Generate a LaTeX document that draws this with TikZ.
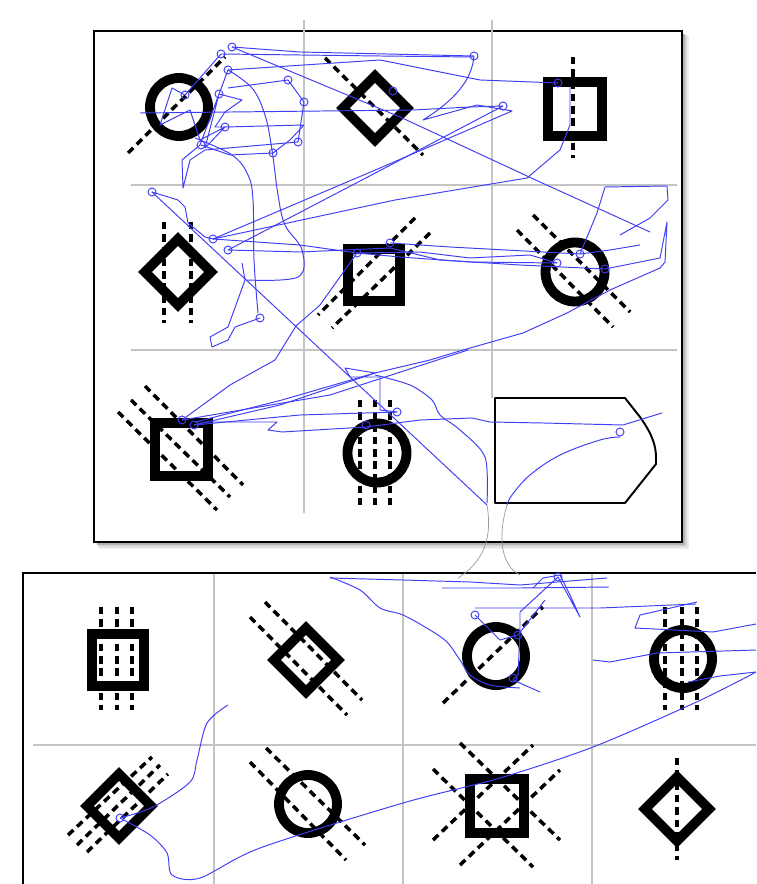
\documentclass[tikz,border=0pt]{standalone}
\usepackage{tikz}
\usetikzlibrary{calc}
\definecolor{GazeBlue}{RGB}{62,62,245}
\definecolor{GridGrey}{RGB}{196,196,196}

\begin{document}
\begin{tikzpicture}[
    x=0.02cm, y=-0.02cm,
    frame/.style={draw=black, line width=1.3pt},
    grid/.style={draw=GridGrey, line width=0.8pt},
    figure/.style={draw=black, line width=5.6pt, line join=miter},
    dashline/.style={draw=black, line width=2pt, dash pattern=on 4.2pt off 2.8pt},
    answer/.style={draw=black, line width=1.1pt, line join=round},
    gaze/.style={draw=GazeBlue, line width=0.55pt, line join=round},
    fixation/.style={draw=GazeBlue, line width=0.55pt},
    jump/.style={draw=black!40, line width=0.4pt}
]
\useasboundingbox (0,0) rectangle (756,884);

% Top panel: shadow, frame and grid
\fill[black!8] (99,36) rectangle (689,549);
\fill[black!16] (98,35) rectangle (687,547);
\fill[black!30] (97,34) rectangle (685,545);
\draw[frame, fill=white] (94,31) rectangle (682,542);
\draw[grid] (304,20) -- (304,513);
\draw[grid] (492,20) -- (492,398);
\draw[grid] (131,185) -- (677,185);
\draw[grid] (131,350) -- (677,350);

% Lower panel: frame and grid
\draw[frame, line width=1.6pt] (23,884) -- (23,573) -- (756,573);
\draw[grid] (214,574) -- (214,884);
\draw[grid] (403,574) -- (403,884);
\draw[grid] (592,574) -- (592,884);
\draw[grid] (33,745) -- (756,745);

% Row 1 of the matrix
\draw[figure] (179,107) circle (29);
\draw[dashline] (128,153) -- (225,57);
\draw[figure] (343,108) -- (375,76) -- (407,108) -- (375,140) -- cycle;
\draw[dashline] (325,58) -- (423,155);
\draw[figure] (548,82) rectangle (602,136);
\draw[dashline] (573,57) -- (573,158);

% Row 2
\draw[figure] (145,272) -- (178,239) -- (211,272) -- (178,305) -- cycle;
\draw[dashline] (164,222) -- (164,323);
\draw[dashline] (191,222) -- (191,323);
\draw[figure] (348,249) rectangle (400,301);
\draw[dashline] (415,218) -- (318,315);
\draw[dashline] (430,233) -- (332,328);
\draw[figure] (575,272) circle (29.5);
\draw[dashline] (517,230) -- (613,327);
\draw[dashline] (533,215) -- (630,312);

% Row 3
\draw[figure] (155,423) rectangle (208,476);
\draw[dashline] (118,412) -- (217,510);
\draw[dashline] (131,400) -- (230,497);
\draw[dashline] (145,386) -- (243,485);
\draw[figure] (377,453) circle (29.5);
\draw[dashline] (360,400) -- (360,505);
\draw[dashline] (375,400) -- (375,505);
\draw[dashline] (390,400) -- (390,505);
\draw[answer] (495,398) -- (625,398) -- (640,417)
    .. controls (652,434) and (656,445) .. (656,458) -- (656,464) -- (625,503) -- (495,503) -- cycle;

% Answer options, row 1
\draw[figure] (92,634) rectangle (144,686);
\draw[dashline] (101,607) -- (101,710);
\draw[dashline] (117,607) -- (117,710);
\draw[dashline] (132,607) -- (132,710);
\draw[figure] (274,660) -- (306,628) -- (338,660) -- (306,692) -- cycle;
\draw[dashline] (250,617) -- (347,715);
\draw[dashline] (265,602) -- (362,700);
\draw[figure] (496,656) circle (29);
\draw[dashline] (443,703) -- (543,607);
\draw[figure] (683,659) circle (29);
\draw[dashline] (665,607) -- (665,710);
\draw[dashline] (682,607) -- (682,710);
\draw[dashline] (697,607) -- (697,710);

% Answer options, row 2
\draw[figure] (87,806) -- (119,774) -- (151,806) -- (119,838) -- cycle;
\draw[dashline] (68,835) -- (152,757);
\draw[dashline] (77,845) -- (160,765);
\draw[dashline] (87,852) -- (168,774);
\draw[figure] (308,804) circle (29);
\draw[dashline] (266,748) -- (365,845);
\draw[dashline] (250,762) -- (346,860);
\draw[figure] (470,779) rectangle (524,833);
\draw[dashline] (460,743) -- (560,840);
\draw[dashline] (433,769) -- (533,867);
\draw[dashline] (433,840) -- (533,745);
\draw[dashline] (460,865) -- (560,770);
\draw[figure] (645,809) -- (677,777) -- (709,809) -- (677,841) -- cycle;
\draw[dashline] (677,758) -- (677,860);

% Gaze path, top panel
\draw[gaze] (232,47) -- (300,52) -- (474,56);
\draw[gaze] (221,54) -- (380,56) -- (474,57);
\draw[gaze] (228,70) -- (380,60) -- (480,80) -- (558,83);
\draw[gaze] (474,56) .. controls (472,80) and (455,100) .. (423,120) -- (477,105) -- (512,111) -- (380,168) -- (213,239);
\draw[gaze] (140,113) -- (413,110) -- (470,107) -- (503,106);
\draw[gaze] (232,47) -- (400,117) -- (540,182) -- (650,232);
\draw[gaze] (221,54) -- (185,95) -- (172,88) -- (160,125) -- (190,110) -- (200,140) -- (225,127) -- (205,148) -- (219,94) -- (228,70) -- (200,145);
\draw[gaze] (200,145) -- (182,160) -- (183,188) -- (190,160) -- (205,150) -- (298,142) -- (304,102) -- (288,80) -- (228,88);
\draw[gaze] (219,94) -- (242,100) -- (225,112) -- (215,127) -- (225,127);
\draw[gaze] (201,145) -- (230,155) -- (273,153) -- (290,140) -- (304,125) -- (225,127);
\draw[gaze] plot[smooth, tension=0.6] coordinates {(228,70) (252,88) (265,115) (272,150) (278,195) (285,225) (302,250) (298,277) (247,280)};
\draw[gaze] plot[smooth, tension=0.6] coordinates {(195,138) (232,155) (248,175) (253,200) (254,260) (258,313)};
\draw[gaze] (260,318) -- (235,327) -- (228,340) -- (212,347) -- (210,337) -- (228,327) -- (245,280) -- (242,263);
\draw[gaze] (152,192) -- (178,200) -- (185,207) -- (188,223) -- (205,237) -- (213,239);
\draw[gaze] (213,239) -- (300,245) -- (357,253) -- (400,257) -- (470,262) -- (557,263);
\draw[gaze] (228,250) -- (300,252) -- (390,248) -- (440,260) -- (520,265) -- (605,269);
\draw[gaze] (390,243) -- (450,247) -- (580,254) -- (610,250) -- (640,245);
\draw[gaze] (357,253) -- (420,252) -- (470,258) -- (530,255) -- (557,263);
\draw[gaze] (228,250) -- (362,180) -- (503,106);
\draw[gaze] (213,239) -- (395,200) -- (527,178) -- (560,150) -- (570,125) -- (570,87);
\draw[gaze] (580,254) -- (597,213) -- (605,187) -- (667,186) -- (668,200) -- (650,218) -- (620,235);
\draw[gaze] (605,269) -- (660,258) -- (667,222) -- (665,262) -- (660,268) -- (610,290)
    -- (567,313) -- (523,333) -- (463,350) -- (430,360) -- (375,373) -- (282,400) -- (195,422);
\draw[gaze] (182,420) -- (330,395) -- (468,350);
\draw[gaze] (194,425) -- (280,405) -- (375,373) -- (345,368) -- (350,377) -- (380,377) -- (380,410) -- (397,412);
\draw[gaze] (194,425) -- (300,415) -- (397,412);
\draw[gaze] (182,420) -- (230,385) -- (275,360) -- (296,326) -- (320,305) -- (357,253);
\draw[gaze] (195,422) -- (277,422) -- (268,430) -- (282,432) -- (366,427) -- (420,420) -- (472,418)
    -- (490,422) -- (543,423) -- (623,425) -- (662,413);
\draw[gaze] plot[smooth, tension=0.5] coordinates {(375,375) (410,385) (432,400) (440,415) (460,430) (485,457) (487,503)};
\draw[gaze] (152,192) -- (487,505);
\draw[gaze] plot[smooth, tension=0.6] coordinates {(620,437) (600,440) (560,455) (530,475) (512,495) (507,505)};

% Fixations, top panel
\foreach \p in {(232,47),(221,54),(228,70),(288,80),(304,102),(185,95),(219,94),(225,127),
                (298,142),(273,153),(201,145),(152,192),(474,56),(393,91),(558,83),(503,106),
                (213,239),(228,250),(260,318),(357,253),(390,243),(557,263),(580,254),(605,269),
                (182,420),(194,425),(397,412),(366,425),(620,432)}
    \draw[fixation] \p circle (4);

% Jump between the panels
\draw[jump] (487,505) .. controls (492,535) and (486,560) .. (458,578);
\draw[jump] (507,505) .. controls (498,535) and (500,565) .. (520,575);

% Gaze path, lower panel
\draw[gaze] (330,578) -- (403,580) -- (470,582) -- (520,585) -- (607,578);
\draw[gaze] (442,588) -- (520,588) -- (609,587);
\draw[gaze] (475,608) -- (600,608) -- (696,604);
\draw[gaze] plot[smooth, tension=0.5] coordinates {(330,577) (360,590) (380,608) (403,615) (430,630) (447,642) (460,660) (470,675) (490,685) (520,688)};
\draw[gaze] (533,588) -- (543,578) -- (560,575) -- (570,595) -- (580,617) -- (558,577) -- (520,612)
    -- (520,632) -- (518,675) -- (513,680) -- (540,692);
\draw[gaze] (475,615) -- (500,640) -- (518,635) -- (545,600);
\draw[gaze] (697,602) -- (640,615) -- (635,628) -- (713,632) -- (756,624);
\draw[gaze] (593,660) -- (610,662) -- (657,653) -- (756,650);
\draw[gaze] (688,682) -- (720,676) -- (756,672);
\draw[gaze] plot[smooth, tension=0.5] coordinates {(120,818) (150,835) (167,853) (172,875) (200,878) (260,848)
    (403,803) (500,778) (593,747) (690,705) (737,682) (756,672)};
\draw[gaze] plot[smooth, tension=0.5] coordinates {(120,818) (153,807) (190,782) (197,760) (207,723) (228,705)};

% Fixations, lower panel
\foreach \p in {(120,818),(558,577),(475,615),(518,635),(513,678)}
    \draw[fixation] \p circle (4);
\end{tikzpicture}
\end{document}
